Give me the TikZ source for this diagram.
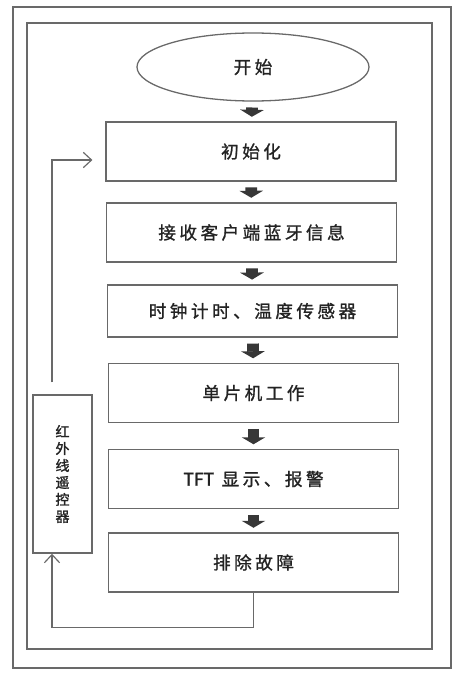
\documentclass[tikz,border=0pt]{standalone}
\usepackage{fontspec}
\newfontfamily\cjk[LetterSpace=20,FakeBold=1.2]{Noto Sans CJK SC}
\newfontfamily\cjkside[FakeBold=1.5]{Noto Sans CJK SC}
\usetikzlibrary{arrows.meta,shapes.geometric,calc}
\definecolor{linegray}{RGB}{105,105,105}
\definecolor{headgray}{RGB}{55,55,55}
\definecolor{textgray}{RGB}{35,35,35}

\begin{document}
\begin{tikzpicture}[x=0.03cm, y=-0.03cm,
  frame/.style={draw=linegray, line width=1.2pt},
  startnode/.style={ellipse, draw=linegray, line width=1.1pt, minimum width=6.96cm,
    minimum height=2.04cm, inner sep=0pt, text=textgray, font=\cjk\fontsize{15}{18}\selectfont},
  stepbox/.style={rectangle, draw=linegray, line width=1.2pt, minimum width=8.7cm,
    minimum height=1.76cm, text=textgray, font=\cjk\fontsize{15}{18}\selectfont},
  sidebox/.style={rectangle, draw=linegray, line width=1.2pt, minimum width=1.77cm,
    minimum height=4.74cm, align=center, text=textgray, font=\cjkside\fontsize{12}{14.5}\selectfont},
  flowarrow/.style={draw=headgray, line width=10pt, -{Triangle[length=6pt, width=20pt]},
    shorten <=5pt, shorten >=4pt},
  backarrow/.style={draw=linegray, line width=1pt, -{Straight Barb[length=7pt, width=13pt]}}
  ]
  \useasboundingbox (0,0) rectangle (464,674);
  \draw[frame] (13,7) rectangle (451,668);
  \draw[frame] (27,23) rectangle (432,649);

  \node[startnode] (start) at (253,67) {开始};
  \node[stepbox] (init) at (251,151.5) {初始化};
  \node[stepbox] (recv) at (251.5,232.5) {接收客户端蓝牙信息};
  \node[stepbox, minimum height=1.56cm] (clock) at (252.5,311) {时钟计时、温度传感器};
  \node[stepbox] (mcu) at (253.5,393) {单片机工作};
  \node[stepbox] (tft) at (253.5,479) {{\cjkside TFT} 显示、报警};
  \node[stepbox] (fix) at (253.5,562.5) {排除故障};
  \node[sidebox] (remote) at (62.5,474) {红\\外\\线\\遥\\控\\器};

  \draw[flowarrow] (start) -- (init);
  \draw[flowarrow] (init) -- (recv);
  \draw[flowarrow] (recv) -- (clock);
  \draw[flowarrow] (clock) -- (mcu);
  \draw[flowarrow] (mcu) -- (tft);
  \draw[flowarrow] (tft) -- (fix);

  \draw[backarrow] (fix.south) -- ++(0,35) -| ($(remote.south)+(-10.5,0)$);
  \draw[backarrow, shorten >=11pt] ($(remote.north)+(-10.5,-12)$) |- ($(init.west)+(0,8.5)$);
\end{tikzpicture}
\end{document}
